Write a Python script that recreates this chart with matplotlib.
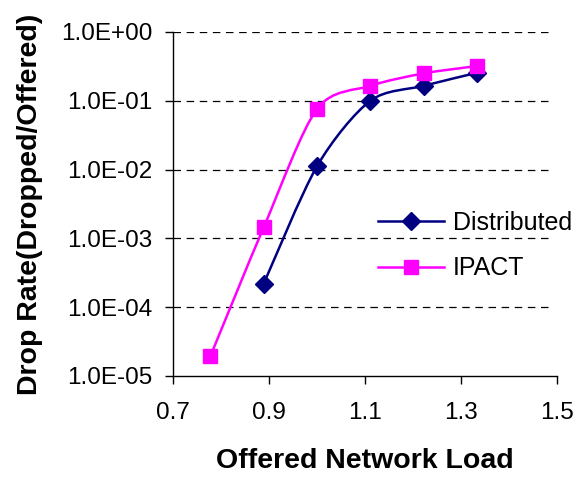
import numpy as np
import matplotlib
matplotlib.use("Agg")
import matplotlib.pyplot as plt
from matplotlib.path import Path
from matplotlib.patches import PathPatch
from matplotlib.lines import Line2D

# ---- data ----
load_dist = [0.889, 1.0, 1.111, 1.222, 1.333]
drop_dist = [2.2e-4, 1.12e-2, 1.0e-1, 1.65e-1, 2.55e-1]
load_ipact = [0.778, 0.889, 1.0, 1.111, 1.222, 1.333]
drop_ipact = [1.95e-5, 1.45e-3, 7.6e-2, 1.65e-1, 2.5e-1, 3.2e-1]
x_ticks = [0.7, 0.9, 1.1, 1.3, 1.5]
y_ticks = [1e-5, 1e-4, 1e-3, 1e-2, 1e-1, 1e0]
y_ticklabels = ["1.0E-05", "1.0E-04", "1.0E-03", "1.0E-02", "1.0E-01", "1.0E+00"]
series_names = ["Distributed", "IPACT"]

plt.rcParams['font.family'] = ['Liberation Sans', 'DejaVu Sans']

fig = plt.figure(figsize=(5.8, 4.78), dpi=100)
ax = fig.add_axes([173/580, 1-376/478, (557-173)/580, (376-32)/478])
ax.set_yscale('log')
ax.set_xlim(0.7, 1.5)
ax.set_ylim(1e-5, 1e0)
ax.set_xticks(x_ticks)
ax.set_xticklabels([f"{v:g}" for v in x_ticks])
ax.set_yticks(y_ticks)
ax.set_yticklabels(y_ticklabels)
ax.yaxis.set_minor_locator(matplotlib.ticker.NullLocator())
ax.tick_params(axis='both', labelsize=17.5, direction='out', length=6, width=1, color='black')
ax.tick_params(axis='x', pad=13)
ax.tick_params(axis='y', pad=9)
for s in ['top', 'right']:
    ax.spines[s].set_visible(False)
for s in ['left', 'bottom']:
    ax.spines[s].set_linewidth(1)

# gridlines at y ticks (except bottom axis)
for yv in y_ticks[1:]:
    ax.axhline(yv, xmin=0, xmax=(550-173)/(557-173), color='black', lw=0.9,
               dashes=(6, 4.5), zorder=1)

ax.set_xlabel("Offered Network Load", fontsize=20.5, fontweight='bold', labelpad=17)
ax.set_ylabel("Drop Rate(Dropped/Offered)", fontsize=20.5, fontweight='bold', labelpad=13)

fig.canvas.draw()


def smooth(xs, ys, color):
    pts = ax.transData.transform(np.column_stack([xs, ys]))
    n = len(pts)
    verts = [pts[0]]
    codes = [Path.MOVETO]
    for i in range(n - 1):
        p0 = pts[i - 1] if i > 0 else pts[i]
        p1 = pts[i]
        p2 = pts[i + 1]
        p3 = pts[i + 2] if i + 2 < n else pts[i + 1]
        c1 = p1 + (p2 - p0) / 7.0
        c2 = p2 - (p3 - p1) / 7.0
        verts += [c1, c2, p2]
        codes += [Path.CURVE4] * 3
    verts = ax.transData.inverted().transform(np.array(verts))
    patch = PathPatch(Path(verts, codes), facecolor='none', edgecolor=color,
                      lw=1.8, transform=ax.transData, zorder=2)
    ax.add_patch(patch)


c_dist = '#000080'
c_ipact = '#FF00FF'
smooth(load_dist, drop_dist, c_dist)
smooth(load_ipact, drop_ipact, c_ipact)
ax.plot(load_dist, drop_dist, linestyle='none', marker='D', markersize=9.5,
        color=c_dist, zorder=3, clip_on=False)
ax.plot(load_ipact, drop_ipact, linestyle='none', marker='s', markersize=10,
        color=c_ipact, zorder=3, clip_on=False)

handles = [Line2D([], [], color=c_dist, lw=1.8, marker='D', markersize=9.5),
           Line2D([], [], color=c_ipact, lw=1.8, marker='s', markersize=10)]
fig.legend(handles, series_names, loc='upper left',
           bbox_to_anchor=(378/580, 1-211/478), bbox_transform=fig.transFigure,
           frameon=False, fontsize=18, handlelength=2.65, handletextpad=0.35,
           labelspacing=0.85, borderpad=0, borderaxespad=0)

fig.savefig("out.png", dpi=100)
